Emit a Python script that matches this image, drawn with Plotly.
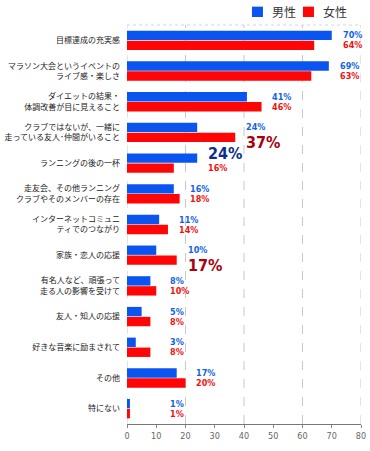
import plotly.graph_objects as go

categories = [
    "目標達成の充実感",
    "マラソン大会というイベントの<br>ライブ感・楽しさ",
    "ダイエットの結果・<br>体調改善が目に見えること",
    "クラブではないが、一緒に<br>走っている友人･仲間がいること",
    "ランニングの後の一杯",
    "走友会、その他ランニング<br>クラブやそのメンバーの存在",
    "インターネットコミュニ<br>ティでのつながり",
    "家族・恋人の応援",
    "有名人など、頑張って<br>走る人の影響を受けて",
    "友人・知人の応援",
    "好きな音楽に励まされて",
    "その他",
    "特にない",
]
male = [70, 69, 41, 24, 24, 16, 11, 10, 8, 5, 3, 17, 1]
female = [64, 63, 46, 37, 16, 18, 14, 17, 10, 8, 8, 20, 1]
series_names = ["男性", "女性"]
highlight_male = ["ランニングの後の一杯"]
highlight_female = ["クラブではないが、一緒に<br>走っている友人･仲間がいること", "家族・恋人の応援"]
x_ticks = [0, 10, 20, 30, 40, 50, 60, 70, 80]
grid_vals = [0, 20, 40, 60, 80]

BLUE = "#0a55f0"
RED = "#ff0505"
CJK = "Noto Sans CJK JP, sans-serif"
NARROW = "Liberation Sans Narrow, DejaVu Sans Condensed, Roboto, sans-serif"

fig = go.Figure()
fig.add_trace(go.Bar(y=categories, x=male, orientation="h", name=series_names[0],
                     marker=dict(color=BLUE, line=dict(width=0)), showlegend=False))
fig.add_trace(go.Bar(y=categories, x=female, orientation="h", name=series_names[1],
                     marker=dict(color=RED, line=dict(width=0)), showlegend=False))

annotations = []
for c, m, f in zip(categories, male, female):
    lx = max(max(m, f) + 3, 14)
    big_m = c in highlight_male
    big_f = c in highlight_female
    annotations.append(dict(
        x=lx, y=c, xref="x", yref="y", text=f"<b>{m}%</b>", showarrow=False,
        xanchor="left", yanchor="middle", yshift=10 if big_m else 5,
        font=dict(family=NARROW, size=16 if big_m else 9,
                  color="#0d2e90" if big_m else "#1262e6")))
    annotations.append(dict(
        x=lx, y=c, xref="x", yref="y", text=f"<b>{f}%</b>", showarrow=False,
        xanchor="left", yanchor="middle", yshift=-10 if big_f else -5,
        font=dict(family=NARROW, size=16 if big_f else 9,
                  color="#a8000f" if big_f else "#f01010")))

# legend drawn as swatches + labels above the plot (top right)
legend_items = [(series_names[0], BLUE, 0.534), (series_names[1], RED, 0.752)]
shapes = []
for name, col, x0 in legend_items:
    shapes.append(dict(type="rect", xref="paper", yref="paper",
                       x0=x0, x1=x0 + 0.047, y0=1.020, y1=1.046,
                       fillcolor=col, line=dict(width=0)))
    annotations.append(dict(x=x0 + 0.075, y=1.033, xref="paper", yref="paper",
                            text=name, showarrow=False, xanchor="left", yanchor="middle",
                            font=dict(family=CJK, size=12, color="#333333")))

for g in grid_vals:
    shapes.append(dict(type="line", xref="x", yref="paper", x0=g, x1=g, y0=0, y1=1,
                       line=dict(color="#c8c8c8", width=1, dash="dash"), layer="below"))
shapes.append(dict(type="line", xref="paper", yref="paper", x0=0, x1=1, y0=1, y1=1,
                   line=dict(color="#d8d8d8", width=1, dash="dot"), layer="below"))

fig.update_layout(
    template="none",
    width=370, height=451,
    margin=dict(l=127, r=9, t=25, b=27, autoexpand=False),
    paper_bgcolor="white", plot_bgcolor="white",
    barmode="group", bargap=0.35, bargroupgap=0.06,
    showlegend=False,
    annotations=annotations,
    shapes=shapes,
    xaxis=dict(range=[0, 80], tickvals=x_ticks, ticktext=[str(t) for t in x_ticks],
               showgrid=False, zeroline=False, showline=True, automargin=False,
               linecolor="#777777", linewidth=1,
               ticks="outside", ticklen=3, tickcolor="#888888",
               tickfont=dict(family=NARROW, size=9, color="#666666")),
    yaxis=dict(range=[12.5, -0.5], showgrid=False, zeroline=False, showline=False,
               ticks="", ticklabelstandoff=6, automargin=False,
               tickfont=dict(family=CJK, size=8, color="#222222")),
)

fig.write_html("out.html", config={"displayModeBar": False},
               post_script="document.body.style.margin='0';document.body.style.overflow='hidden';")
